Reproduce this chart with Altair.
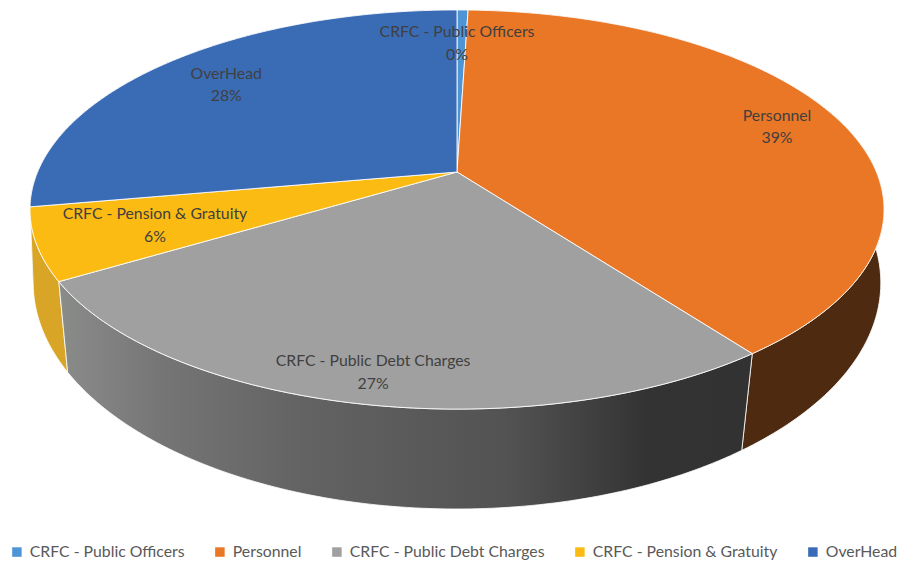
import math
import altair as alt
import pandas as pd

names = ["CRFC - Public Officers", "Personnel", "CRFC - Public Debt Charges",
         "CRFC - Pension & Gratuity", "OverHead"]
shares = [0.5, 39.3, 26.6, 5.8, 27.8]
pct_labels = ["0%", "39%", "27%", "6%", "28%"]

top_colors = ["#4f95d6", "#e97725", "#a0a0a0", "#fbbb13", "#3a6cb6"]
wall_colors = ["#2f5b85", "#4d2a10", "#777777", "#d9a526", "#234270"]

# perspective model of the pie (page pixels)
CX, CY, A, B, K = 457.0, 172.0, 419.4, 192.5, 0.188
# the lower rim of the pie's wall
A2, Y2, B2, K2 = 419.0, 249.0, 221.0, 0.15

# label placement: fraction round the pie, radial factor
label_frac = [0.0, 0.192, 0.532, 0.703, 0.869]
label_rad = [0.842, 0.864, 0.846, 0.723, 0.83]


def project(frac, r=1.0):
    t = 2 * math.pi * frac
    u, v = r * math.sin(t), r * math.cos(t)
    d = 1 + K * v
    return CX + A * u / d, CY - B * v / d


def base(frac):
    t = 2 * math.pi * frac
    u, v = math.sin(t), math.cos(t)
    d = 1 + K2 * v
    return CX + A2 * u / d, Y2 - B2 * v / d


edges = [0.0]
for s in shares:
    edges.append(edges[-1] + s / 100)

top_rows, wall_rows = [], []
for i, name in enumerate(names):
    f0, f1 = edges[i], edges[i + 1]
    n = max(4, int((f1 - f0) * 400))
    fracs = [f0 + (f1 - f0) * j / n for j in range(n + 1)]
    pts = [(CX, CY)] + [project(f) for f in fracs] + [(CX, CY)]
    for o, (x, y) in enumerate(pts):
        top_rows.append({"x": x, "y": y, "o": o, "name": name})
    wpts = [project(f) for f in fracs] + [base(f) for f in reversed(fracs)]
    wpts.append(wpts[0])
    for o, (x, y) in enumerate(wpts):
        wall_rows.append({"x": x, "y": y, "o": o, "name": name})

top_df = pd.DataFrame(top_rows)
wall_df = pd.DataFrame(wall_rows)

label_rows = []
for i, name in enumerate(names):
    x, y = project(label_frac[i], label_rad[i])
    label_rows.append({"x": x, "y": y, "t": name + "\n" + pct_labels[i]})
label_df = pd.DataFrame(label_rows)

xs = alt.Scale(domain=[8, 899], nice=False, zero=False)
ys = alt.Scale(domain=[560, 8], nice=False, zero=False)
X = alt.X("x:Q", scale=xs, axis=None)
Y = alt.Y("y:Q", scale=ys, axis=None)

gray_grad = alt.LinearGradient(
    gradient="linear", x1=0, x2=1, y1=0, y2=0,
    stops=[
        alt.GradientStop(offset=0.0, color="#8a8c8a"),
        alt.GradientStop(offset=0.15, color="#757575"),
        alt.GradientStop(offset=0.35, color="#626362"),
        alt.GradientStop(offset=0.65, color="#525252"),
        alt.GradientStop(offset=0.85, color="#333333"),
        alt.GradientStop(offset=1.0, color="#323232"),
    ],
)

layers = []
for i in [0, 4, 1, 3, 2]:
    fill = gray_grad if i == 2 else wall_colors[i]
    layers.append(
        alt.Chart(wall_df[wall_df.name == names[i]])
        .mark_line(fill=fill, stroke="#ffffff", strokeWidth=1, strokeOpacity=0.8)
        .encode(x=X, y=Y, order="o:Q")
    )

tops = (
    alt.Chart(top_df)
    .mark_line(stroke="#ffffff", strokeWidth=1, strokeOpacity=0.85)
    .encode(
        x=X, y=Y, order="o:Q",
        fill=alt.Fill(
            "name:N",
            scale=alt.Scale(domain=names, range=top_colors),
            sort=names,
            legend=alt.Legend(
                title=None, orient="none", direction="horizontal", columns=5,
                legendX=1, legendY=536, symbolType="square", symbolSize=90,
                symbolStrokeWidth=0, symbolOpacity=1, labelFont="Lato",
                labelFontSize=15.8, labelColor="#595959", labelOffset=5,
                columnPadding=27, gridAlign="each", labelLimit=300,
            ),
        ),
    )
)
layers.append(tops)

labels = (
    alt.Chart(label_df)
    .mark_text(font="Lato", fontSize=15.8, color="#404040", lineBreak="\n",
               lineHeight=22.5, align="center", baseline="middle")
    .encode(x=X, y=Y, text="t:N")
)
layers.append(labels)

chart = (
    alt.layer(*layers)
    .properties(width=891, height=552, padding=0, autosize=alt.AutoSizeParams(type="none"))
    .configure_view(stroke=None)
)
chart.save("out.html", embed_options={"renderer": "svg", "actions": False})
